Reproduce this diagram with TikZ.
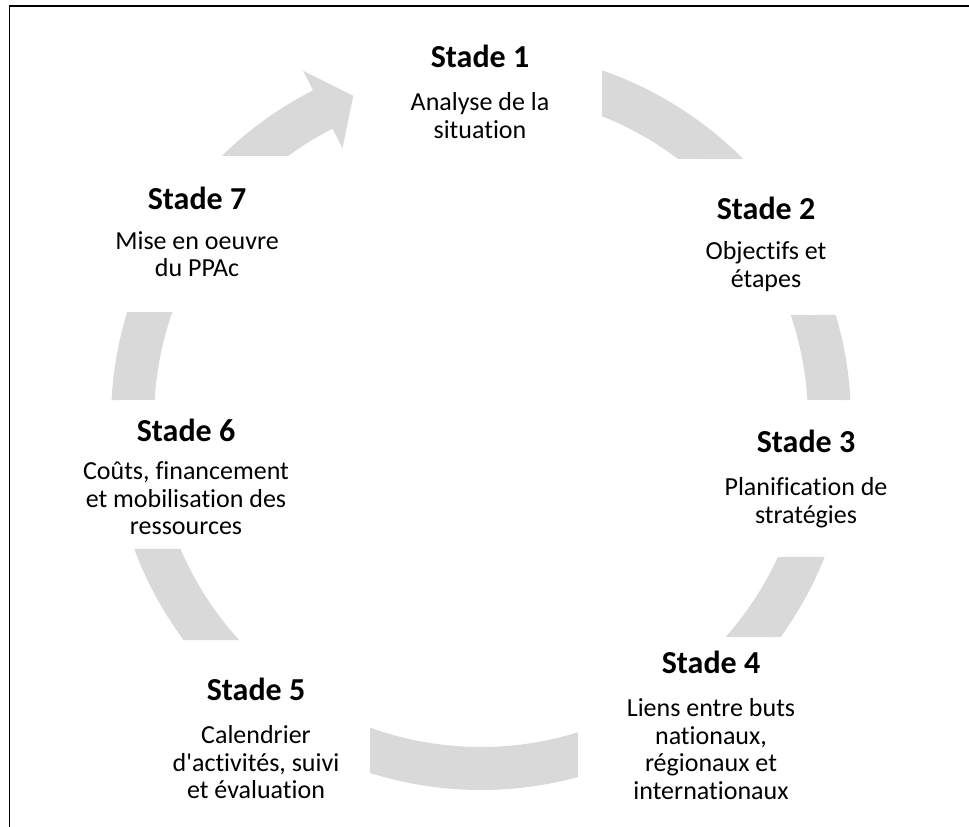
\documentclass[tikz,border=0pt]{standalone}
\usepackage{fontspec}
\setmainfont{Carlito}[Ligatures=NoCommon]
\usetikzlibrary{positioning}
\definecolor{ringgray}{RGB}{217,217,217}
\newcommand\Rout{370}
\newcommand\Rin{327}
% one piece of the ring: outer arc #1 -> #2, inner arc #3 -> #4
\newcommand\ringseg[4]{%
  \fill[ringfill] ([shift={(#1:\Rout)}]C) arc[start angle=#1, end angle=#2, radius=\Rout]
    -- ([shift={(#3:\Rin)}]C) arc[start angle=#3, end angle=#4, radius=\Rin] -- cycle;}
\tikzset{
  ringfill/.style={fill=ringgray},
  stadetitle/.style={anchor=base,inner sep=0pt,font=\fontsize{32}{36}\selectfont\bfseries},
  stadetext/.style={align=center,inner sep=0pt,font=\fontsize{26}{27.5}\selectfont},
}
\begin{document}
\begin{tikzpicture}[x=1pt,y=1pt,node distance=23.75pt]
\useasboundingbox (0,0) rectangle (969,-827);
\draw[line width=1.6pt] (969,-6) -- (9.5,-6) -- (9.5,-827);
\coordinate (C) at (481,-420);
% ring pieces between the stages
\ringseg{70.9}{44.86}{52.96}{68.28}
\ringseg{16.49}{3.10}{3.51}{18.73}
\ringseg{-21.73}{-35.91}{-41.57}{-24.77}
\ringseg{-74.80}{-107.46}{-109.84}{-72.75}
\ringseg{216.49}{200.40}{203.23}{222.29}
\ringseg{176.90}{163.03}{160.72}{176.49}
% last piece with its arrow head
\fill[ringfill] ([shift={(134.47:\Rout)}]C) arc[start angle=134.47, end angle=117, radius=\Rout]
  -- ([shift={(117:392)}]C) -- ([shift={(111.5:348.5)}]C) -- ([shift={(117:305)}]C)
  -- ([shift={(117:\Rin)}]C) arc[start angle=117, end angle=126.16, radius=\Rin] -- cycle;
% stages
\node[stadetitle] (t1) at (480,-67) {Stade 1};
\node[stadetext,below=of t1] (d1) {\strut Analyse de la\\situation};
\node[stadetitle] (t2) at (766,-219) {Stade 2};
\node[stadetext,below=21pt of t2] (d2) {\strut Objectifs et\\étapes};
\node[stadetitle] (t3) at (806,-452) {Stade 3};
\node[stadetext,below=of t3] (d3) {\strut Planification de\\stratégies};
\node[stadetitle] (t4) at (711,-673) {Stade 4};
\node[stadetext,below=of t4] (d4) {\strut Liens entre buts\\nationaux,\\régionaux et\\internationaux};
\node[stadetitle] (t5) at (256,-700) {Stade 5};
\node[stadetext,below=of t5] (d5) {\strut Calendrier\\d\textquotesingle activités, suivi\\et évaluation};
\node[stadetitle] (t6) at (186,-441) {Stade 6};
\node[stadetext,below=19pt of t6] (d6) {\strut Coûts, financement\\et mobilisation des\\ressources};
\node[stadetitle] (t7) at (197,-209) {Stade 7};
\node[stadetext,below=20.5pt of t7] (d7) {\strut Mise en oeuvre\\du PPAc};
\end{tikzpicture}
\end{document}
